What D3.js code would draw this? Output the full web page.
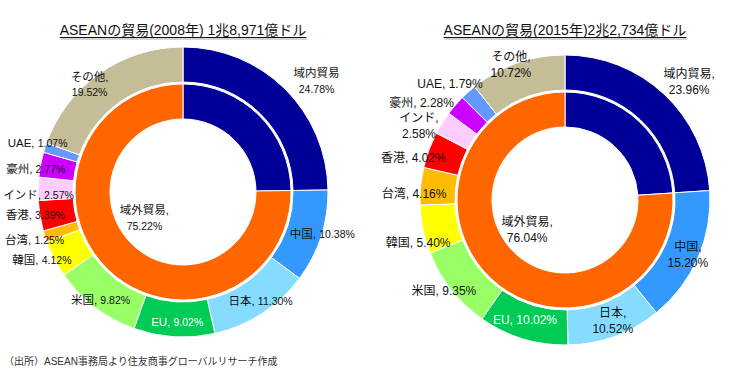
<!DOCTYPE html>
<html><head><meta charset="utf-8">
<script src="https://cdn.jsdelivr.net/npm/d3@7"></script>
<style>
body{margin:0;background:#fff;}
text{font-family:"Liberation Sans","Noto Sans CJK JP",sans-serif;}
</style></head>
<body><svg id="c" width="747" height="382"></svg>
<script>
const categories = ["域内貿易","中国","日本","EU","米国","韓国","台湾","香港","インド","豪州","UAE","その他"];
const share2008 = [24.78,10.38,11.30,9.02,9.82,4.12,1.25,3.39,2.57,2.77,1.07,19.52];
const share2015 = [23.96,15.20,10.52,10.02,9.35,5.40,4.16,4.02,2.58,2.28,1.79,10.72];
const innerCategories = ["域内貿易","域外貿易"];
const inner2008 = [24.78,75.22];
const inner2015 = [23.96,76.04];
const titles = ["ASEANの貿易(2008年) 1兆8,971億ドル","ASEANの貿易(2015年)2兆2,734億ドル"];
const source = "（出所）ASEAN事務局より住友商事グローバルリサーチ作成";

const colorMap = {"域内貿易":"#000099","中国":"#3399ff","日本":"#85dcff","EU":"#00cc55","米国":"#99ff66",
 "韓国":"#ffff00","台湾":"#ffbb00","香港":"#ff0000","インド":"#ffccff","豪州":"#cc00ff","UAE":"#6699ff",
 "その他":"#c4bd97","域外貿易":"#ff6600"};

// label layout (nudges from arc centroids), two-line flag, comma flag
const layouts = [
 {cx:183, cy:192, pctSize:10.5, nameSize:11.5,
  outer:{"域内貿易":[44,-20,2,false],"中国":[18,1,1],"日本":[8,1,1],"EU":[2,1,1],"米国":[-5,5,1],"韓国":[-28,8,1],
   "台湾":[-27,7,1],"香港":[-22,0,1],"インド":[-17,4,1],"豪州":[-22,-1,1],"UAE":[-24,-12,1],"その他":[-20,-3,2]},
  inner:{"域外貿易":[25,-38,2]}},
 {cx:565, cy:200, pctSize:12, nameSize:12,
  outer:{"域内貿易":[37,-25,2],"中国":[6,4,2],"日本":[4,1,2],"EU":[-3,-4,1],"米国":[-21,10,1],"韓国":[-22,16,1],
   "台湾":[-24,5,1],"香港":[-32,0,1],"インド":[-38,-6,2],"豪州":[-47,-15,1],"UAE":[-30,-23,1],"その他":[-12,-15,2]},
  inner:{"域外貿易":[24,-36,2]}}
];

const svg = d3.select("#c");
const pie = d3.pie().sort(null).value(d=>d.v);
const outerArc = d3.arc().innerRadius(110).outerRadius(145);
const innerArc = d3.arc().innerRadius(73).outerRadius(108);
const fmt = d3.format(".2f");

function drawChart(i, outerVals, innerVals){
  const L = layouts[i];
  const g = svg.append("g").attr("transform",`translate(${L.cx},${L.cy})`);
  const od = pie(categories.map((c,k)=>({c, v:outerVals[k]})));
  const id = pie(innerCategories.map((c,k)=>({c, v:innerVals[k]})));
  g.selectAll("path.o").data(od).join("path").attr("class","o")
    .attr("d",outerArc).attr("fill",d=>colorMap[d.data.c]).attr("stroke","#fff").attr("stroke-width",1);
  g.selectAll("path.i").data(id).join("path").attr("class","i")
    .attr("d",innerArc).attr("fill",d=>colorMap[d.data.c]).attr("stroke","#fff").attr("stroke-width",1);

  function label(d, arc, cfg){
    if(!cfg) return;
    const [cxp,cyp] = arc.centroid(d);
    const x = cxp+cfg[0], y = cyp+cfg[1];
    const comma = cfg[3]===false ? "" : ",";
    const col = d.data.c==="EU" ? "#fff" : "#111";
    const t = g.append("text").attr("text-anchor","middle").attr("fill",col);
    if(cfg[2]===2){
      t.append("tspan").attr("x",x).attr("y",y-8).attr("dy","0.35em").attr("font-size",L.nameSize).text(d.data.c+comma);
      t.append("tspan").attr("x",x).attr("y",y+8).attr("dy","0.35em").attr("font-size",L.pctSize).text(fmt(d.data.v)+"%");
    } else {
      t.attr("x",x).attr("y",y).attr("dy","0.35em");
      t.append("tspan").attr("font-size",L.nameSize).text(d.data.c+comma+" ");
      t.append("tspan").attr("font-size",L.pctSize).text(fmt(d.data.v)+"%");
    }
  }
  od.forEach(d=>label(d,outerArc,L.outer[d.data.c]));
  const midArc = d3.arc().innerRadius(90.5).outerRadius(90.5);
  id.forEach(d=>label(d,midArc,L.inner[d.data.c]));

  // title
  const tt = svg.append("text").attr("x",L.cx).attr("y",35).attr("text-anchor","middle")
    .attr("font-size",14).attr("fill","#111").text(titles[i]);
  const w = tt.node().getComputedTextLength();
  svg.append("line").attr("x1",L.cx-w/2).attr("x2",L.cx+w/2).attr("y1",37.5).attr("y2",37.5).attr("stroke","#111").attr("stroke-width",1);
  svg.append("line").attr("x1",L.cx-w/2+1).attr("x2",L.cx+w/2+1).attr("y1",39).attr("y2",39).attr("stroke","#aaa").attr("stroke-width",1.2);
}
drawChart(0, share2008, inner2008);
drawChart(1, share2015, inner2015);

svg.append("text").attr("x",4).attr("y",365).attr("font-size",10).attr("fill","#333").text(source);
</script></body></html>
